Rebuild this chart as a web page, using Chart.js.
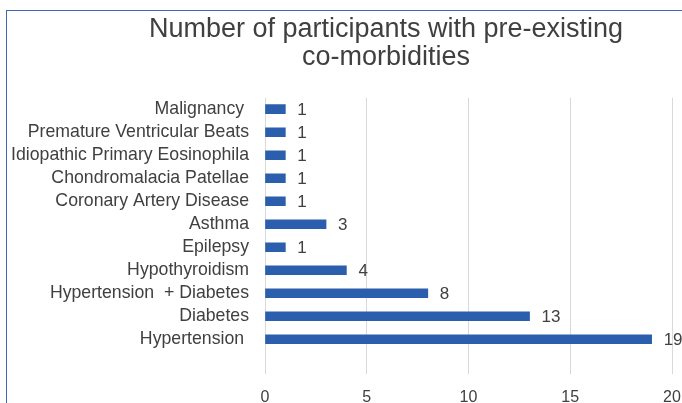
<!DOCTYPE html>
<html>
<head>
<meta charset="utf-8">
<script src="https://cdn.jsdelivr.net/npm/chart.js@4.4.0/dist/chart.umd.min.js"></script>
<style>
  body { margin: 0; background: #fff; overflow: hidden; }
  .box {
    position: absolute;
    left: 6px;
    top: 10px;
    width: 758px;
    height: 420px;
    border: 1px solid #3f66b0;
    background: #fff;
  }
</style>
</head>
<body>
<div class="box">
  <canvas id="myChart" width="758" height="420"></canvas>
</div>
<script>
// categories top to bottom (last one is the empty row of the original chart)
const categories = [
  "Malignancy ",
  "Premature Ventricular Beats",
  "Idiopathic Primary Eosinophila",
  "Chondromalacia Patellae",
  "Coronary Artery Disease",
  "Asthma",
  "Epilepsy",
  "Hypothyroidism",
  "Hypertension  + Diabetes",
  "Diabetes",
  "Hypertension ",
  "",
];
const participants = [1, 1, 1, 1, 1, 3, 1, 4, 8, 13, 19, null];
const xTicks = [0, 5, 10, 15, 20];

const textColor = "#404040";
const fontFamily = "'Liberation Sans', Arial, sans-serif";

// write the value next to the end of each bar
const valueLabels = {
  id: "valueLabels",
  afterDatasetsDraw(chart) {
    const ctx = chart.ctx;
    const meta = chart.getDatasetMeta(0);
    ctx.save();
    ctx.font = "17px " + fontFamily;
    ctx.fillStyle = textColor;
    ctx.textAlign = "left";
    ctx.textBaseline = "middle";
    meta.data.forEach(function (bar, i) {
      const v = participants[i];
      if (v == null) return;
      ctx.fillText(String(v), bar.x + 12, bar.y + 1);
    });
    ctx.restore();
  },
};

const data = {
  labels: categories,
  datasets: [
    {
      label: "Participants",
      data: participants,
      backgroundColor: "#2b5fae",
      barThickness: 9,
    },
  ],
};

const config = {
  type: "bar",
  data: data,
  plugins: [valueLabels],
  options: {
    indexAxis: "y",
    responsive: false,
    animation: false,
    layout: {
      padding: { top: 0, left: 0, right: 0, bottom: 10 },
    },
    plugins: {
      legend: { display: false },
      tooltip: { enabled: false },
      title: {
        display: true,
        text: ["Number of participants with pre-existing", "co-morbidities"],
        color: textColor,
        font: { family: fontFamily, size: 27, weight: "normal", lineHeight: 1.05 },
        padding: { top: 4, bottom: 26 },
      },
    },
    scales: {
      x: {
        min: 0,
        max: 20,
        afterBuildTicks: function (s) {
          s.ticks = xTicks.map(function (v) { return { value: v }; });
        },
        grid: { color: "#d9d9d9", drawTicks: false },
        border: { display: false },
        ticks: {
          color: textColor,
          padding: 14,
          font: { family: fontFamily, size: 16 },
        },
      },
      y: {
        grid: { display: false, drawTicks: false },
        border: { display: false },
        afterFit: function (s) { s.width = 258; },
        ticks: {
          color: textColor,
          padding: 16,
          autoSkip: false,
          font: { family: fontFamily, size: 17.7 },
        },
      },
      // empty space on the right, the original chart goes on past the window
      yRight: {
        type: "category",
        position: "right",
        labels: [],
        grid: { display: false },
        border: { display: false },
        ticks: { display: false },
        afterFit: function (s) { s.width = 93; },
      },
    },
  },
};
const myChart = new Chart(document.getElementById("myChart"), config);
</script>
</body>
</html>
